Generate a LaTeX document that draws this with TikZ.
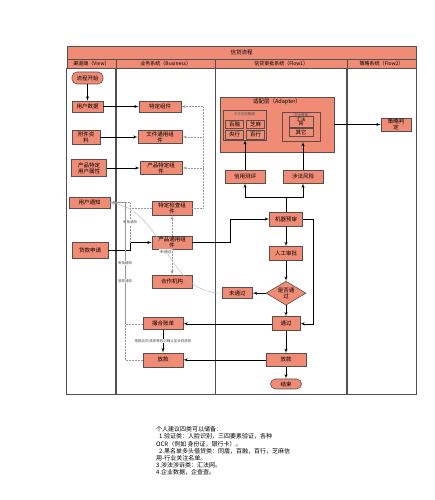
\documentclass[tikz,border=0pt]{standalone}
\usepackage{fontspec}
\setmainfont{Noto Sans CJK SC}
\usetikzlibrary{%
  shapes,arrows,positioning,shapes.geometric,calc}
\tikzstyle{line} = [draw, -latex',line width=.5pt,fill=none]
\tikzstyle{dotline} = [draw, -latex',line width=.5pt,fill=none,gray!80,densely dotted]
\tikzstyle{cline} = [draw, -latex',line width=.4pt,fill=none,gray!60]
\definecolor{mSalmon}{RGB}{240,140,118}
\definecolor{mEdge}{RGB}{92,78,74}
\definecolor{mLane}{RGB}{80,80,80}

\begin{document}
\begin{tikzpicture}[
    x=1pt,y=-1pt,
    state/.style={
      draw=mEdge,
      fill=mSalmon,
      line width=.6pt,
      minimum width=40pt,
      minimum height=13pt,
      align=center,
      inner sep=.5pt,
      font=\fontsize{5.5}{6}\selectfont,
    },
    tstate/.style={
      state,
      rounded corners=5pt,
    },
    dstate/.style={
      state,
      diamond,
      aspect=1.25,
      inner sep=0pt,
    },
    sstate/.style={
      state,
      minimum width=18pt,
      minimum height=8.5pt,
      inner sep=0pt,
    },
    gstate/.style={
      draw=mEdge,
      fill=mSalmon,
      line width=.6pt,
    },
    hdr/.style={
      draw=mLane,
      fill=mSalmon,
      line width=.7pt,
      minimum height=9pt,
      inner sep=0pt,
      font=\fontsize{5}{6}\selectfont,
    },
    lane/.style={draw=mLane,line width=.8pt},
    lbl/.style={
      fill=white,
      inner sep=.5pt,
      text=black!70,
      font=\fontsize{3.5}{4}\selectfont,
    },
  ]
  \useasboundingbox (0,0) rectangle (435,500);

  % lanes
  \node[hdr,minimum width=349pt,minimum height=13pt,font=\fontsize{5.5}{6}\selectfont] (title) at (241.5,52.5) {信贷流程};
  \node[hdr,minimum width=49pt] (hview) at (91.5,63.5) {渠道端（View）};
  \node[hdr,minimum width=99.5pt] (hbiz) at (165.75,63.5) {业务系统（Business）};
  \node[hdr,minimum width=131.5pt] (hflow) at (281.25,63.5) {信贷审批系统（Flow1）};
  \node[hdr,minimum width=69pt] (hstrat) at (381.5,63.5) {策略系统（Flow2）};
  \coordinate (bot) at (0,394);
  \draw[lane] (hview.south west) rectangle (hview.south east |- bot);
  \draw[lane] (hbiz.south west) rectangle (hbiz.south east |- bot);
  \draw[lane] (hflow.south west) rectangle (hflow.south east |- bot);
  \draw[lane] (hstrat.south west) rectangle (hstrat.south east |- bot);

  % channel lane
  \node[tstate,minimum width=31pt,minimum height=12pt] (start) at (87.5,78) {流程开始};
  \node[state,minimum width=31pt,minimum height=11pt] (udata) at (87.5,106.5) {用户数据};
  \node[state,minimum width=28pt,minimum height=14pt] (attach) at (86,137) {附件资\\料};
  \node[state,minimum width=35pt,minimum height=17pt] (pattr) at (89,168) {产品特定\\用户属性};
  \node[state,minimum width=41pt,minimum height=11pt] (unotify) at (89.5,202.5) {用户通知};
  \node[state,minimum width=36pt,minimum height=16pt] (apply) at (90,250) {贷款申请};

  % business lane
  \node[state,minimum width=42pt,minimum height=11pt] (spec) at (160,106.5) {特定组件};
  \node[state,minimum width=44pt] (filec) at (160,137) {文件通用组\\件};
  \node[state,minimum width=42pt] (prodc) at (161,168) {产品特定组\\件};
  \node[state,minimum height=14pt] (check) at (172,208) {特定检查组\\件};
  \node[state] (pgen) at (172,242.5) {产品通用组\\件};
  \node[state] (coop) at (172,281.5) {合作机构};

  % approval lane
  \node[gstate,minimum width=114pt,minimum height=55pt] (adapter) at (277,124.5) {};
  \node[below=1.5pt of adapter.north,inner sep=0pt,font=\fontsize{5.5}{6}\selectfont] (adtitle) {适配层（Adapter）};
  \node[gstate,minimum width=43pt,minimum height=29pt] (credbox) at (244.3,125.3) {};
  \node[lbl,fill=none,below=1pt of credbox.north] (credtitle) {三方征信数据};
  \node[sstate] (bairong) at (234.5,124.2) {百融};
  \node[sstate] (zhima) at (255.5,124.2) {芝麻};
  \node[sstate,minimum height=9pt] (yanghang) at (234.5,134.5) {央行};
  \node[sstate,minimum height=9pt] (baihang) at (255.5,134.5) {百行};
  \node[gstate,minimum width=38pt,minimum height=29pt] (lawbox) at (301,127) {};
  \node[lbl,fill=none,below=.5pt of lawbox.north] (lawtitle) {司法数据};
  \node[sstate,minimum width=24pt,minimum height=10.5pt,font=\fontsize{4.5}{4.8}\selectfont] (huifa) at (301,121.8) {汇法\\网};
  \node[sstate,minimum width=24pt] (qita) at (301,132.3) {其它};

  \node[state] (credit) at (245,176.5) {信用测评};
  \node[state] (law) at (303,176.5) {涉法风险};
  \node[state,minimum width=33pt,minimum height=14pt] (mpre) at (286,219) {机器预审};
  \node[state,minimum width=33pt,minimum height=14pt,below=20pt of mpre] (manual) {人工审批};
  \node[dstate,below=20pt of manual] (decide) {是否通\\过};
  \node[state,minimum width=30pt,minimum height=11pt,left=13pt of decide] (notpass) {未通过};
  \node[state,minimum width=28pt,minimum height=14pt,below=11pt of decide] (pass) {通过};
  \node[state,below=22pt of pass] (loanf) {放款};
  \node[tstate,minimum width=31pt,minimum height=10pt,below=12pt of loanf] (endn) {结束};

  % back in the business lane
  \coordinate (bizx) at (163,0);
  \node[state,minimum height=12pt] (bill) at (pass -| bizx) {撮合账单};
  \node[state,minimum height=14pt] (loanb) at (loanf -| bizx) {放款};

  % strategy lane
  \node[state,minimum width=30pt,minimum height=13pt] (strat) at (396,124.5) {策略判\\定};

  % note
  \node[anchor=north west,align=left,inner sep=0pt,font=\fontsize{6}{7.2}\selectfont] (note) at (156,426.5) {个人建议四类可以储备：\\
    \hspace*{3pt}1.验证类：人脸识别，三四要素验证，各种\\
    OCR（例如 身份证，银行卡）。\\
    \hspace*{3pt}2.黑名单多头借贷类：同盾，百融，百行，芝麻信\\
    用-行业关注名单。\\
    3.涉法涉诉类：汇法网。\\
    4.企业数据，企查查。};

  \draw[line] (start) -- (udata);
  \draw[line] (udata) -- (spec);
  \draw[line] (attach) -- (filec);
  \draw[line] (pattr) -- (prodc);

  % feedback of the check
  \coordinate (fb) at (203,106.5);
  \draw[dotline] (check.east) -- (check.east -| fb) -- (fb) -- (spec.east);
  \draw[dotline] (filec.east -| fb) -- (filec.east);
  \draw[dotline] (prodc.east -| fb) -- (prodc.east);

  % application
  \coordinate (nA) at (130,242.5);
  \draw[line] (apply.east) -- (apply.east -| nA) |- (pgen.west);
  \draw[dotline] (pgen) -- (check);
  \draw[dotline] (pgen) -- (coop);
  \coordinate (nB) at (230,0);
  \draw[line] (pgen.east) -- (pgen.east -| nB) |- (mpre.west);

  % notices
  \coordinate (nC) at (125,0);
  \draw[dotline,-] (check.west) -- (check.west -| nA);
  \draw[dotline] (nA) |- node[lbl,pos=.25] (l1) {审批通知} (unotify.east);
  \draw[dotline] (bill.west) -- (bill.west -| nC) |- node[lbl,pos=.25] (l2) {审批通知} (unotify.east);
  \draw[dotline] (loanb.west) -- (loanb.west -| nC) |- node[lbl,pos=.25] (l3) {放款通知} (unotify.east);
  \draw[cline] (notpass.west) to[out=180,in=-10]
     node[lbl,pos=.5,font=\fontsize{4}{4}\selectfont] (l4) {未通过} (unotify.east);

  % approval
  \coordinate (split) at (286,197);
  \draw[line] (mpre.north) -- (split) -| (credit.south);
  \draw[line] (split) -| (law.south);
  \draw[line] (credit.north) -- (credit.north |- credbox.south);
  \draw[line] (law.north) -- (law.north |- lawbox.south);
  \draw[line] (adapter) -- (strat);
  \draw[line] (mpre) -- (manual);
  \draw[line] (manual) -- (decide);
  \draw[line] (decide) -- (notpass);
  \draw[line] (decide) -- (pass);
  \draw[line] (mpre.east) -- ++(10,0) |- (pass.east);
  \draw[line] (pass) -- (bill);
  \draw[line] (pass) -- (loanf);
  \draw[line] (loanf) -- (loanb);
  \draw[line] (loanf) -- (endn);
  \draw[line] (bill) -- node[lbl] (l5) {根据合同 放款等核对确认至合同放款} (loanb);

\end{tikzpicture}
\end{document}
